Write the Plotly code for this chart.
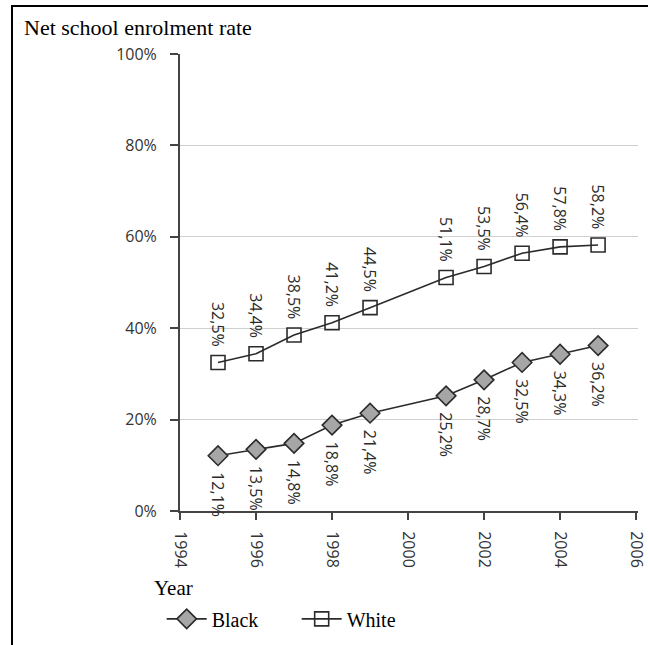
import plotly.graph_objects as go

# Net school enrolment rate by population group
years = [1995, 1996, 1997, 1998, 1999, 2001, 2002, 2003, 2004, 2005]
black = [12.1, 13.5, 14.8, 18.8, 21.4, 25.2, 28.7, 32.5, 34.3, 36.2]
white = [32.5, 34.4, 38.5, 41.2, 44.5, 51.1, 53.5, 56.4, 57.8, 58.2]
series_names = ["Black", "White"]
y_ticks = [0, 20, 40, 60, 80, 100]
y_tick_text = [f"{v}%" for v in y_ticks]
x_ticks = [1994, 1996, 1998, 2000, 2002, 2004, 2006]

SANS = "Open Sans"
SERIF = "Liberation Serif"
INK = "#2b2b2b"


def pct(v):
    return f"{v:.1f}".replace(".", ",") + "%"


fig = go.Figure()
fig.add_trace(go.Scatter(
    x=years, y=black, name=series_names[0], mode="lines+markers",
    line=dict(color=INK, width=1.6),
    marker=dict(symbol="diamond", size=15, color="#a6a6a6",
                line=dict(color=INK, width=1.6)),
))
fig.add_trace(go.Scatter(
    x=years, y=white, name=series_names[1], mode="lines+markers",
    line=dict(color=INK, width=1.6),
    marker=dict(symbol="square-open", size=14, color=INK,
                line=dict(color=INK, width=1.6)),
))

annotations = []
for yr, v in zip(years, white):
    annotations.append(dict(
        x=yr, y=v, xref="x", yref="y", text=pct(v), showarrow=False,
        textangle=90, yanchor="bottom", xanchor="center", yshift=14,
        font=dict(family=SANS, size=16, color=INK),
    ))
for yr, v in zip(years, black):
    annotations.append(dict(
        x=yr, y=v, xref="x", yref="y", text=pct(v), showarrow=False,
        textangle=90, yanchor="top", xanchor="center", yshift=-14,
        font=dict(family=SANS, size=16, color=INK),
    ))

annotations.append(dict(
    x=-0.345, y=1.059, xref="paper", yref="paper", text="Net school enrolment rate",
    showarrow=False, xanchor="left", yanchor="middle",
    font=dict(family=SERIF, size=22, color="black"),
))
annotations.append(dict(
    x=-0.062, y=-0.1685, xref="paper", yref="paper", text="Year",
    showarrow=False, xanchor="left", yanchor="middle",
    font=dict(family=SERIF, size=21, color="black"),
))

# Outer frame (top and left edges)
shapes = [
    dict(type="rect", xref="paper", yref="paper",
         x0=-0.3668, x1=1.2, y0=-0.5, y1=1.105,
         line=dict(color="black", width=2), fillcolor="rgba(0,0,0,0)",
         layer="below"),
]

fig.update_layout(
    width=648, height=645,
    margin=dict(l=180, r=10, t=54, b=134, autoexpand=False),
    paper_bgcolor="white", plot_bgcolor="white",
    showlegend=True,
    legend=dict(
        orientation="h", x=-0.04, y=-0.236, xanchor="left", yanchor="middle",
        font=dict(family=SERIF, size=20, color="black"),
        bgcolor="rgba(0,0,0,0)", itemwidth=40,
        entrywidth=80, entrywidthmode="pixels",
    ),
    annotations=annotations,
    shapes=shapes,
    xaxis=dict(
        range=[1994, 2006.05], tickvals=x_ticks, tickangle=90,
        showgrid=False, zeroline=False, automargin=False,
        showline=True, linecolor="#444", linewidth=2,
        ticks="outside", ticklen=7, tickwidth=2, tickcolor="#444",
        ticklabelstandoff=8,
        tickfont=dict(family=SANS, size=16, color="#333"),
    ),
    yaxis=dict(
        range=[0, 100], tickvals=y_ticks, ticktext=y_tick_text,
        showgrid=True, gridcolor="#cfcfcf", gridwidth=1, zeroline=False,
        automargin=False,
        showline=True, linecolor="#444", linewidth=2,
        ticks="outside", ticklen=8, tickwidth=2, tickcolor="#444",
        ticklabelstandoff=10,
        tickfont=dict(family=SANS, size=16, color="#333"),
    ),
)

fig.write_html("out.html")
